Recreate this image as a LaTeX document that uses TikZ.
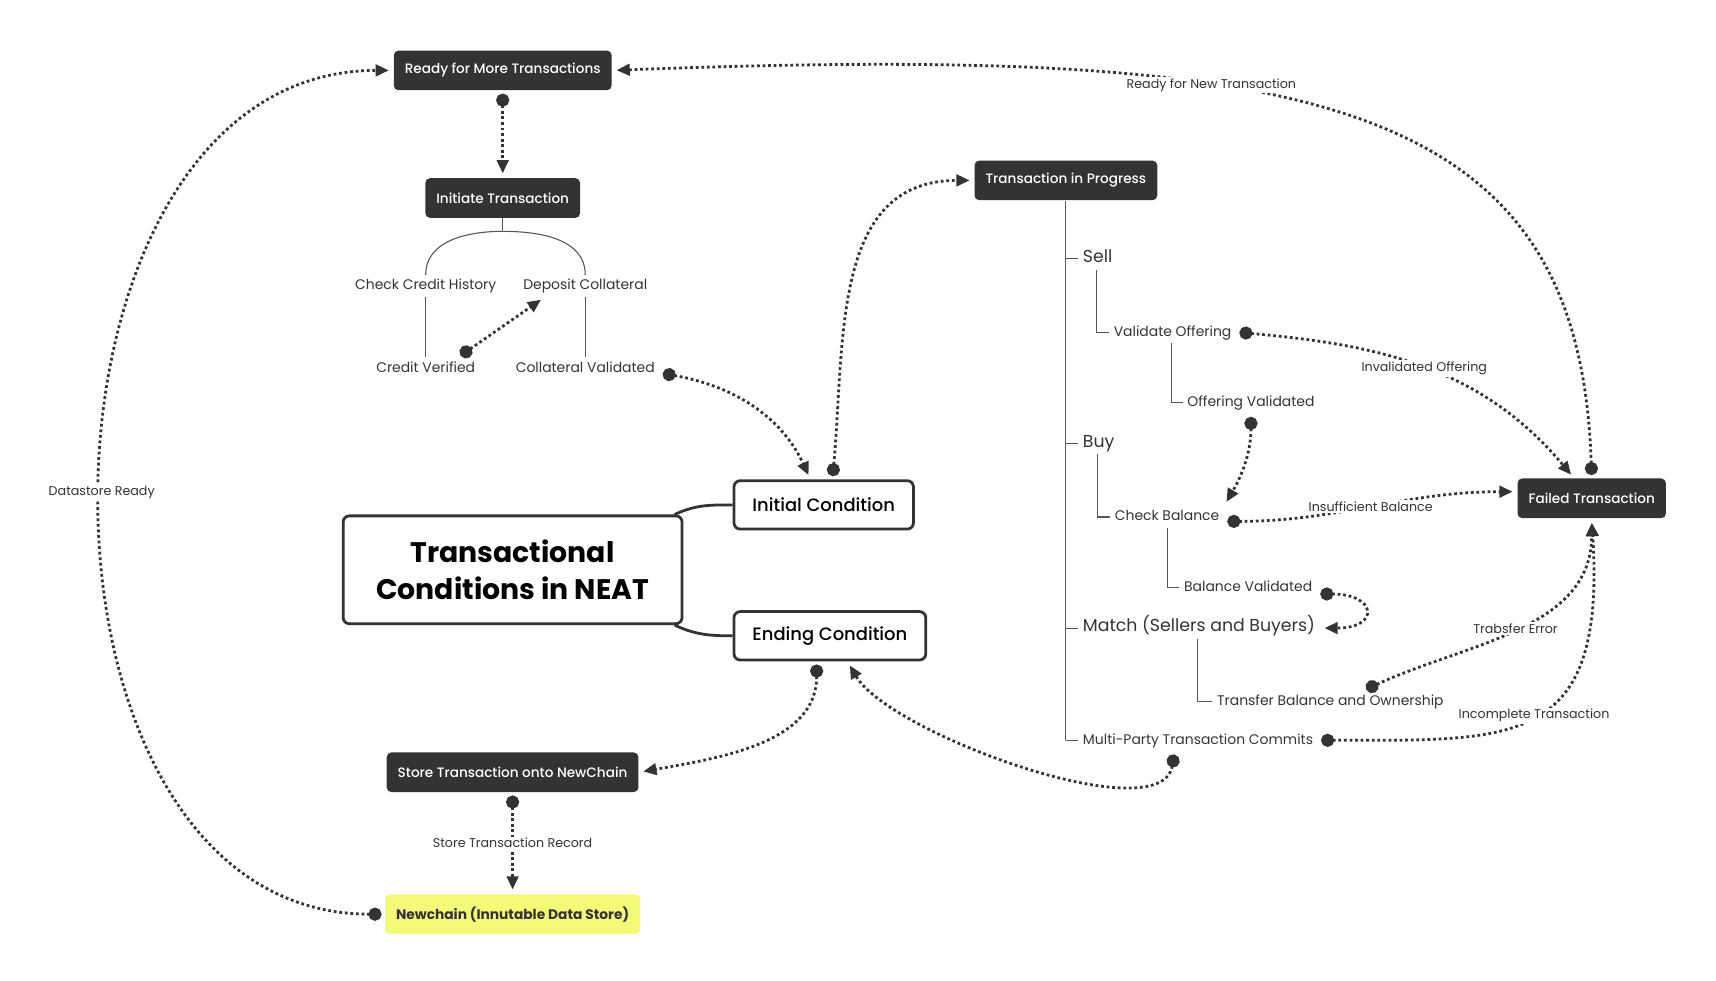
\documentclass[tikz,border=0pt]{standalone}
\usepackage{fontspec}
\setmainfont{Poppins}
\newfontfamily\medfont{Poppins Medium}
\usetikzlibrary{shapes,arrows.meta,positioning,fit}
\definecolor{ink}{HTML}{333333}
\definecolor{stem}{HTML}{555555}
\definecolor{lemon}{HTML}{F4FA78}
\tikzstyle{block} = [rectangle, fill=ink, text=white, rounded corners=3pt,
    minimum height=0.9cm, inner xsep=0.25cm, font=\medfont\fontsize{8.8}{10}\selectfont]
\tikzstyle{datastore} = [block, fill=lemon, text=ink,
    font=\bfseries\fontsize{8.9}{10}\selectfont]
\tikzstyle{cond} = [rectangle, draw=ink, line width=1.8pt, fill=white, rounded corners=4pt,
    minimum height=1.1cm, inner xsep=0.42cm, font=\medfont\fontsize{11.6}{13}\selectfont]
\tikzstyle{topic} = [cond, minimum width=7.7cm, minimum height=2.45cm, align=center,
    font=\bfseries\fontsize{18.3}{24}\selectfont]
\tikzstyle{leaf} = [inner xsep=3pt, inner ysep=2pt, text=ink, text height=0.75em,
    text depth=0.25em, font=\fontsize{9}{11}\selectfont]
\tikzstyle{twig} = [leaf, font=\fontsize{11.2}{13}\selectfont]
\tikzstyle{branch} = [stem, line width=0.7pt]
\tikzstyle{link} = [ink, line width=1.8pt, dash pattern=on 1.8pt off 1.8pt,
    {Circle[length=8.5pt]}-{Triangle[length=8.5pt,width=7.5pt]},
    shorten <=2pt, shorten >=3pt]
\tikzstyle{tag} = [fill=white, inner sep=1pt, text=ink, font=\fontsize{8.2}{10}\selectfont]

\begin{document}
\begin{tikzpicture}[x=0.025cm, y=-0.025cm]
  \useasboundingbox (0,0) rectangle (1560,891);
  % Place nodes
  \node [block] (ready) at (457,64) {Ready for More Transactions};
  \node [block, below of=ready, node distance=2.9cm] (initiate) {Initiate Transaction};
  \node [leaf] (credit) at (387,260) {Check Credit History};
  \node [leaf, right of=credit, node distance=3.625cm] (deposit) {Deposit Collateral};
  \node [leaf, below of=credit, node distance=1.875cm] (creditok) {Credit Verified};
  \node [leaf, below of=deposit, node distance=1.875cm] (collok) {Collateral Validated};
  \node [topic] (neat) at (466,518) {Transactional\\Conditions in NEAT};
  \node [cond, anchor=west] (initcond) at (666,459) {Initial Condition};
  \node [cond, anchor=west] (endcond) at (666,578) {Ending Condition};
  \node [block, below of=neat, node distance=4.6cm] (store) {Store Transaction onto NewChain};
  \node [datastore, below of=store, node distance=3.225cm] (chain) {Newchain (Innutable Data Store)};
  \node [block] (progress) at (969,164) {Transaction in Progress};
  \node [block] (failed) at (1447,453) {Failed Transaction};
  % progress tree
  \node [twig, anchor=west] (sell) at (980,235) {Sell};
  \node [leaf, anchor=west] (valoff) at (1008,302) {Validate Offering};
  \node [leaf, anchor=west] (offok) at (1075,366) {Offering Validated};
  \node [twig, anchor=west] (buy) at (980,403) {Buy};
  \node [leaf, anchor=west] (chkbal) at (1009,470) {Check Balance};
  \node [leaf, anchor=west] (balok) at (1072,534) {Balance Validated};
  \node [twig, anchor=west] (match) at (980,571) {Match (Sellers and Buyers)};
  \node [leaf, anchor=west] (transfer) at (1102,638) {Transfer Balance and Ownership};
  \node [leaf, anchor=west] (multi) at (980,673) {Multi-Party Transaction Commits};
  % Draw tree lines
  \draw [branch] (initiate.south) -- ++(0,12) coordinate (fork);
  \draw [branch] (fork) to[out=180, in=90] (credit.north);
  \draw [branch] (fork) to[out=0, in=90] (deposit.north);
  \draw [branch] (credit.south) -- (creditok.north);
  \draw [branch] (deposit.south) -- (collok.north);
  \draw [branch] (progress.south) -- (progress.south |- multi.west);
  \foreach \n in {sell,buy,match,multi}
    \draw [branch] (progress.south |- \n.west) -- (\n.west);
  \draw [branch] (sell.south west) ++(17,0) |- (valoff.west);
  \draw [branch] (valoff.south west) ++(57,0) |- (offok.west);
  \draw [branch] (buy.south west) ++(18,0) |- (chkbal.west);
  \draw [branch] (chkbal.south west) ++(52,0) |- (balok.west);
  \draw [branch] (match.south west) ++(109,0) |- (transfer.west);
  \draw [ink, line width=1.8pt] ([xshift=-0.2cm]neat.north east) to[out=25, in=180] (initcond.west);
  \draw [ink, line width=1.8pt] ([xshift=-0.2cm]neat.south east) to[out=-25, in=180] (endcond.west);
  % Draw edges
  \draw [link] (ready.south) -- (initiate.north);
  \draw [link] ([xshift=-0.5cm]creditok.north east) -- ([xshift=0.6cm]deposit.south west);
  \draw [link] ([yshift=-0.1cm]collok.east) to[out=-10, in=115] ([xshift=-0.3cm]initcond.north);
  \draw [link] ([xshift=0.2cm]initcond.north) to[out=85, in=180, looseness=1.1] (progress.west);
  \draw [link] ([xshift=-0.3cm]endcond.south) to[out=-90, in=10] (store.east);
  \draw [link] ([xshift=2.2cm]multi.south west) to[out=-100, in=-60, looseness=0.62] ([xshift=0.4cm]endcond.south);
  \draw [link] (store.south) -- node[tag] {Store Transaction Record} (chain.north);
  \draw [link] (chain.west) to[out=180, in=180, looseness=1.16] node[tag] {Datastore Ready} (ready.west);
  \draw [link] (failed.north) .. controls +(-11,-344) and +(643,-24) .. (ready.east)
    node[tag, pos=0.64] {Ready for New Transaction};
  \draw [link] (valoff.east) to[out=-5, in=130] node[tag] {Invalidated Offering} ([xshift=-0.4cm]failed.north);
  \draw [link] (offok.south) to[out=-90, in=60] (chkbal.north east);
  \draw [link] ([yshift=-0.1cm]chkbal.east) to[out=0, in=180] node[tag] {Insufficient Balance} ([yshift=0.15cm]failed.west);
  \draw [link] ([yshift=-0.15cm]balok.east) to[out=0, in=0, looseness=4.5] (match.east);
  \draw [link] ([xshift=0.75cm]transfer.north) to[out=25, in=-90] node[tag] {Trabsfer Error} (failed.south);
  \draw [link] (multi.east) .. controls +(179,0) and +(13,209) .. (failed.south)
    node[tag, pos=0.5] {Incomplete Transaction};
\end{tikzpicture}
\end{document}
